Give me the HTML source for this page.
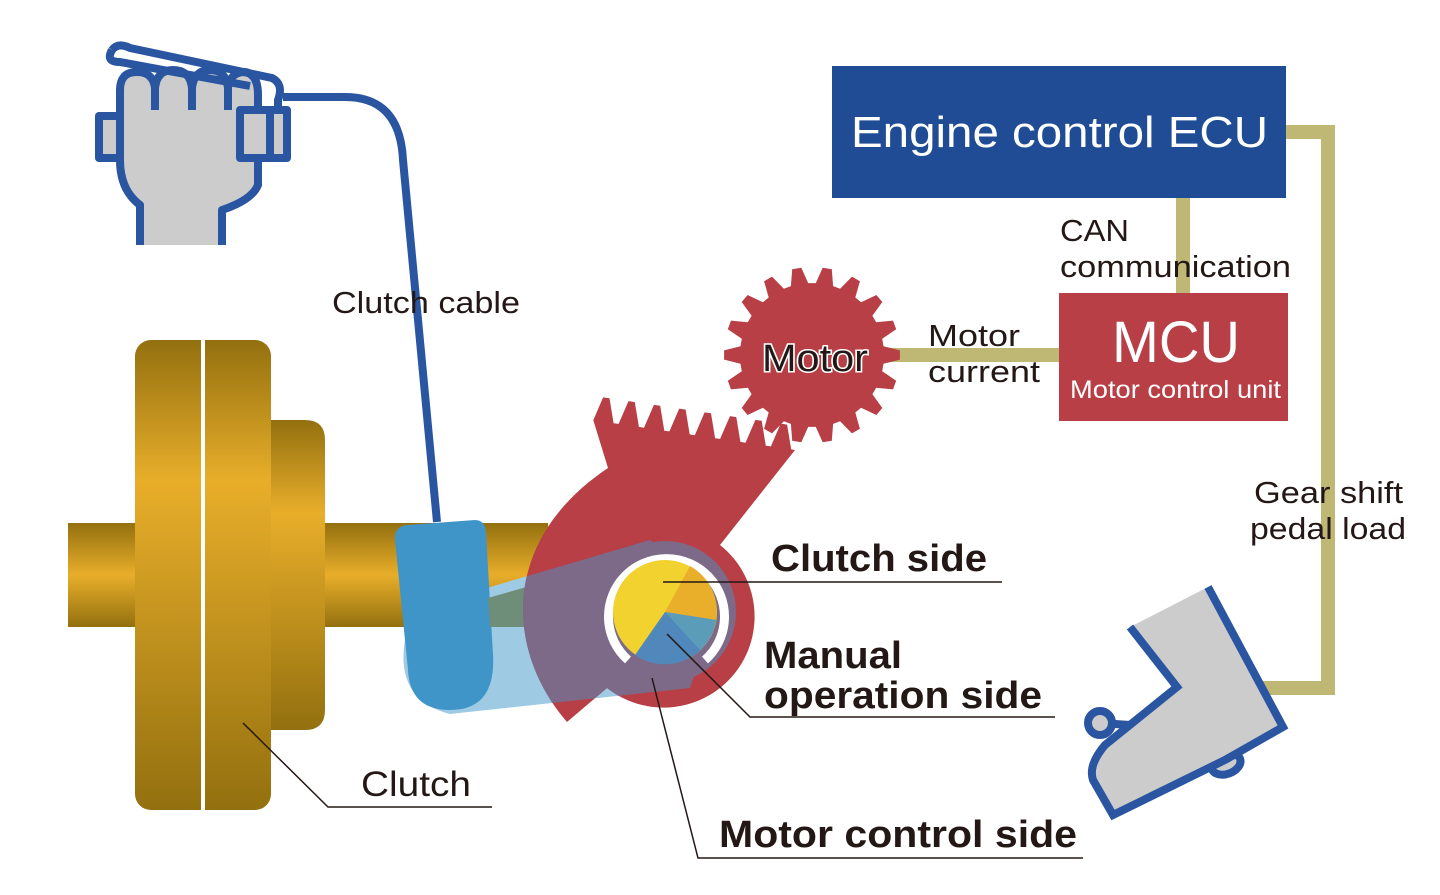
<!DOCTYPE html>
<html><head><meta charset="utf-8"><style>
html,body{margin:0;padding:0;background:#fff;width:1440px;height:895px;overflow:hidden}
svg{display:block}
text{font-family:"Liberation Sans",sans-serif;fill:#231815}
</style></head><body>
<svg id="s" width="1440" height="895" viewBox="0 0 1440 895" xmlns="http://www.w3.org/2000/svg">
<defs>
<linearGradient id="g" x1="0" y1="0" x2="0" y2="1">
<stop offset="0" stop-color="#93700f"/><stop offset="0.3" stop-color="#e8ae2a"/><stop offset="1" stop-color="#93700f"/></linearGradient>
<linearGradient id="g2" x1="0" y1="0" x2="0" y2="1">
<stop offset="0" stop-color="#93700f"/><stop offset="0.5" stop-color="#e8ae2a"/><stop offset="1" stop-color="#93700f"/></linearGradient>
<clipPath id="redclip"><path id="redp" d=""/><circle cx="665" cy="612" r="84"/></clipPath>
</defs>

<g fill="none" stroke="#bfb874" stroke-width="14">
<path d="M1286,132 H1328 V688 H1262"/>
<path d="M1183,198 V293"/>
<path d="M880,355 H1059"/>
</g>

<rect x="68" y="523" width="480" height="104" fill="url(#g2)"/>
<path d="M270,420 H305 Q325,420 325,440 V710 Q325,730 305,730 H270 Z" fill="url(#g)"/>
<rect x="135" y="340" width="136" height="470" rx="16" fill="url(#g)"/>
<rect x="201" y="340" width="4" height="470" fill="#fff"/>

<path d="M283,97 H345 Q400,97 403,160 L437,522" fill="none" stroke="#2a55a0" stroke-width="8"/>

<path d="M405,640 Q395,700 450,714 L690,688 L720,600 L650,540 L480,590 Z" fill="#9ecae4"/>
<path d="M395,540 Q394,526 408,525 L475,520 Q485,520 486,532 L493,655 Q496,710 450,710 Q410,710 408,670 Z" fill="#3f94c8"/>
<path d="M488,598 L540,583 L540,627 L490,627 Z" fill="#6f8e7a"/>

<path id="red" d="" fill="#b83f45"/>
<circle cx="665" cy="612" r="83" fill="#b83f45"/>
<path d="M405,640 Q395,700 450,714 L690,688 L720,600 L650,540 L480,590 Z" fill="#7c6a88" clip-path="url(#redclip)"/>
<circle cx="665" cy="612" r="71" fill="#7c6a88"/>

<path d="M628,660 A58,58 0 1 1 705,660" fill="none" stroke="#fff" stroke-width="9"/>
<circle cx="665" cy="612" r="52" fill="#f2d22e"/>
<path d="M665,612 L690,566 A52,52 0 0 1 716,620 Z" fill="#e9af2b"/>
<path d="M665,612 L716,620 A52,52 0 0 1 635,655 Z" fill="#5088bb"/>
<path d="M665,612 L716,620 A52,52 0 0 1 700,650 Z" fill="#5b9cb8"/>

<path id="gear" d="" fill="#b83f45"/>
<text x="815" y="371" font-size="38" text-anchor="middle" textLength="106" lengthAdjust="spacingAndGlyphs" style="fill:#231815;stroke:#fff;stroke-width:3;paint-order:stroke">Motor</text>

<g stroke="#2a55a0" stroke-width="8" fill="#ccc" stroke-linejoin="round">
<rect x="99" y="116" width="24" height="42"/>
<path d="M140,245 V205 Q120,190 120,160 V90 Q120,72 137,72 Q153,72 155,88 Q157,70 173,70 Q190,70 192,88 Q194,70 210,70 Q226,70 228,88 Q230,72 245,72 Q258,74 258,95 V185 Q252,200 222,210 V245"/>
<path d="M155,88 V110 M192,88 V110 M228,88 V110" fill="none"/>
<rect x="240" y="110" width="47" height="48"/>
<path d="M270,108 V158" fill="none"/>
<path d="M112,50 Q118,42 130,48 L272,78 Q284,84 278,100 V110" fill="none"/>
<path d="M112,50 Q105,62 120,62 L250,86" fill="none"/>
</g>

<g stroke="#2a55a0" stroke-width="8" fill="#ccc" stroke-linejoin="miter">
<path d="M1100,723 L1130,725" fill="none"/>
<circle cx="1100" cy="723" r="12"/>
<ellipse cx="1226" cy="764" rx="15" ry="10" transform="rotate(-20 1226 764)"/>
<path d="M1130,627 L1177,687 L1105,745 Q1088,765 1093,780 L1113,815 L1225,760 L1283,727 L1208,587"/>
</g>

<rect x="832" y="66" width="454" height="132" fill="#1f4c94"/>
<text x="851" y="147" font-size="44" textLength="417" lengthAdjust="spacingAndGlyphs" style="fill:#fff">Engine control ECU</text>
<rect x="1059" y="293" width="229" height="128" fill="#b83f45"/>
<text x="1112" y="362" font-size="58" textLength="128" lengthAdjust="spacingAndGlyphs" style="fill:#fff">MCU</text>
<text x="1070" y="398" font-size="25" textLength="211" lengthAdjust="spacingAndGlyphs" style="fill:#fff">Motor control unit</text>

<g font-size="31">
<text x="1060" y="241" textLength="69" lengthAdjust="spacingAndGlyphs">CAN</text>
<text x="1060" y="277" textLength="231" lengthAdjust="spacingAndGlyphs">communication</text>
<text x="928" y="346" textLength="92" lengthAdjust="spacingAndGlyphs">Motor</text>
<text x="928" y="382" textLength="112" lengthAdjust="spacingAndGlyphs">current</text>
<text x="1254" y="503" textLength="149" lengthAdjust="spacingAndGlyphs">Gear shift</text>
<text x="1250" y="539" textLength="156" lengthAdjust="spacingAndGlyphs">pedal load</text>
<text x="332" y="313" textLength="188" lengthAdjust="spacingAndGlyphs">Clutch cable</text>
<text x="361" y="796" font-size="35" textLength="110" lengthAdjust="spacingAndGlyphs">Clutch</text>
</g>
<g font-size="38" font-weight="bold">
<text x="771" y="571" textLength="216" lengthAdjust="spacingAndGlyphs">Clutch side</text>
<text x="764" y="668" textLength="138" lengthAdjust="spacingAndGlyphs">Manual</text>
<text x="764" y="708" textLength="278" lengthAdjust="spacingAndGlyphs">operation side</text>
<text x="719" y="847" textLength="358" lengthAdjust="spacingAndGlyphs">Motor control side</text>
</g>
<g fill="none" stroke="#231815" stroke-width="1.5">
<path d="M663,582 H1002"/>
<path d="M667,634 L750,717 H1055"/>
<path d="M652,678 L698,858 H1083"/>
<path d="M243,723 L328,807 H492"/>
</g>
</svg>
<script>
(function(){
var cx=812,cy=355,n=18,ro=88,ri=72,p=[];
for(var i=0;i<n;i++){var a=i*2*Math.PI/n,w=Math.PI/n;
 [[a-w*0.7,ri],[a-w*0.3,ro],[a+w*0.3,ro],[a+w*0.7,ri]].forEach(function(q){p.push((cx+q[1]*Math.cos(q[0])).toFixed(1)+','+(cy+q[1]*Math.sin(q[0])).toFixed(1));});}
document.getElementById('gear').setAttribute('d','M'+p.join(' L')+'Z');
var x0=592,y0=420,x1=795,y1=450,dx=x1-x0,dy=y1-y0,L=Math.hypot(dx,dy),ux=dx/L,uy=dy/L,nx=uy,ny=-ux,t=8,s=L/t,r=[];
for(var k=0;k<t;k++){var b=k*s;
 [[b+s*0.05,0],[b+s*0.3,24],[b+s*0.55,24],[b+s*0.85,0]].forEach(function(q){r.push((x0+ux*q[0]+nx*q[1]).toFixed(1)+','+(y0+uy*q[0]+ny*q[1]).toFixed(1));});}
var d='M567,722 C505,650 500,540 608,468 L'+r.join(' L')+' L795,450 L720,545 A83,83 0 0 1 607,688 Z';
document.getElementById('red').setAttribute('d',d);
document.getElementById('redp').setAttribute('d',d);
})();
</script>
</body></html>
